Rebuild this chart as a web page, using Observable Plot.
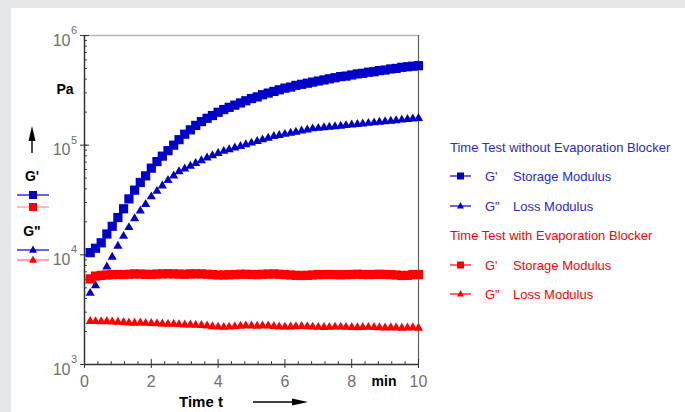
<!DOCTYPE html>
<html>
<head>
<meta charset="utf-8">
<script src="https://cdn.jsdelivr.net/npm/d3@7"></script>
<script src="https://cdn.jsdelivr.net/npm/@observablehq/plot@0.6"></script>
<style>
  html, body { margin: 0; padding: 0; width: 685px; height: 412px; overflow: hidden; background: #e6e7e9; }
  #panel { position: absolute; left: 11px; top: 8px; right: 0; bottom: 0; background: #fff; }
  #chart { position: absolute; left: 0; top: 0; }
  #overlay { position: absolute; left: 0; top: 0; pointer-events: none; font-family: "Liberation Sans", Arial, sans-serif; }
</style>
</head>
<body>
<div id="panel"></div>
<div id="chart"></div>
<svg id="overlay" width="685" height="412"></svg>
<script>
// ---- data ----
const time = [0.17,0.33,0.5,0.67,0.83,1,1.17,1.33,1.5,1.67,1.83,2,2.17,2.33,2.5,2.67,2.83,3,3.17,3.33,3.5,3.67,3.83,4,4.17,4.33,4.5,4.67,4.83,5,5.17,5.33,5.5,5.67,5.83,6,6.17,6.33,6.5,6.67,6.83,7,7.17,7.33,7.5,7.67,7.83,8,8.17,8.33,8.5,8.67,8.83,9,9.17,9.33,9.5,9.67,9.83,10];

// Time test without evaporation blocker (blue)
const storageNoBlocker = [10470,11480,12880,15490,18200,21880,26300,32360,38900,45700,52500,61700,70800,79400,89100,100000,112200,125900,138000,151400,164100,175800,186200,199500,211300,221300,231700,242700,254100,266100,275400,288400,298500,309000,319900,331100,338800,350800,358900,367300,375800,384600,393600,402700,412100,421700,426600,436500,446700,451900,462400,467700,478600,484200,495500,501200,512900,518800,524800,530900];
const lossNoBlocker = [4470,5250,6310,7760,9550,12020,14790,17780,21380,25120,28840,33880,38020,42660,47860,52480,57540,60950,64570,68390,72440,76740,80350,84140,88100,91200,94410,97720,101200,104700,108400,112200,116100,120200,123000,125900,128800,131800,134900,138000,141300,142900,144500,146200,147900,149600,151400,153100,154900,156700,158500,160300,162200,164100,166000,167900,169800,171800,173800,175800];

// Time test with evaporation blocker (red)
const storageBlocker = [6030,6400,6500,6550,6600,6620,6600,6650,6700,6680,6650,6620,6680,6700,6720,6700,6680,6650,6700,6720,6700,6650,6600,6550,6550,6580,6600,6650,6650,6620,6600,6650,6680,6700,6650,6600,6550,6500,6480,6500,6550,6600,6600,6620,6600,6580,6600,6620,6650,6620,6600,6620,6650,6620,6600,6550,6480,6500,6600,6620];
const lossBlocker = [2480,2470,2460,2480,2450,2440,2420,2400,2390,2400,2380,2370,2360,2350,2340,2340,2320,2300,2300,2290,2280,2250,2220,2200,2190,2200,2220,2240,2260,2250,2240,2260,2250,2230,2210,2200,2210,2220,2230,2220,2200,2190,2180,2190,2200,2200,2190,2180,2170,2180,2190,2180,2170,2160,2170,2160,2150,2160,2170,2150];

// ticks
const yTicks = [1e3, 1e4, 1e5, 1e6];
const yTickExp = ["3", "4", "5", "6"];
const xTicks = [0, 2, 4, 6, 8, 10];
const xTickLabels = ["0", "2", "4", "6", "8", "10"];
const xMinorTicks = [0.4,0.8,1.2,1.6,2.4,2.8,3.2,3.6,4.4,4.8,5.2,5.6,6.4,6.8,7.2,7.6,8.4,8.8,9.2,9.6];

const BLUE = "#0000c8";
const RED = "#ff0000";

const rows = (vals) => time.map((t, i) => ({t, v: vals[i]}));

const font = "'Liberation Sans', Arial, sans-serif";

const chart = Plot.plot({
  width: 685,
  height: 412,
  marginLeft: 84,
  marginRight: 267,
  marginTop: 35,
  marginBottom: 48,
  style: {background: "transparent", fontFamily: font, overflow: "visible"},
  x: {domain: [0, 10]},
  y: {type: "log", domain: [1e3, 1e6]},
  marks: [
    Plot.ruleY([1e6], {stroke: "#b4b4b4", strokeWidth: 1.5}),
    Plot.ruleX([10], {stroke: "#606060", strokeWidth: 1.2}),
    // minor y ticks (inside)
    Plot.axisY({tickSize: 3, dx: 3, tickFormat: () => "", label: null, stroke: "#444"}),
    // major y ticks (crossing)
    Plot.axisY({ticks: yTicks, tickSize: 9, dx: 5, tickFormat: () => "", label: null, stroke: "#333"}),
    // minor x ticks (inside)
    Plot.axisX({ticks: xMinorTicks, tickSize: 3, dy: -3, tickFormat: () => "", label: null, stroke: "#444"}),
    // major x ticks (crossing)
    Plot.axisX({ticks: xTicks, tickSize: 9, dy: -5, tickFormat: () => "", label: null, stroke: "#333"}),
    // x tick labels
    Plot.axisX({ticks: xTicks, tickSize: 0, tickPadding: 11, tickFormat: (d) => xTickLabels[xTicks.indexOf(d)], label: null, fontSize: 16, color: "#707070"}),
    Plot.ruleX([0], {stroke: "#333", strokeWidth: 1.5}),
    Plot.ruleY([1e3], {stroke: "#333", strokeWidth: 1.5}),
    // y tick labels 10^n
    Plot.text(yTicks, {y: (d) => d, frameAnchor: "left", text: () => "10", textAnchor: "end", dx: -14, dy: 5, fontSize: 16, fill: "#707070"}),
    Plot.text(yTicks, {y: (d) => d, frameAnchor: "left", text: (d, i) => yTickExp[i], textAnchor: "start", dx: -13.5, dy: -5, fontSize: 11, fill: "#707070"}),
    // data
    Plot.dot(rows(storageNoBlocker), {x: "t", y: "v", symbol: "square", r: 5.2, fill: BLUE, stroke: "none"}),
    Plot.dot(rows(lossNoBlocker), {x: "t", y: "v", symbol: "triangle", r: 3.4, fill: BLUE, stroke: "none"}),
    Plot.dot(rows(storageBlocker), {x: "t", y: "v", symbol: "square", r: 5.2, fill: RED, stroke: "none"}),
    Plot.dot(rows(lossBlocker), {x: "t", y: "v", symbol: "triangle", r: 3.4, fill: RED, stroke: "none"})
  ]
});
document.getElementById("chart").appendChild(chart);

// ---- annotations and legends ----
const ov = d3.select("#overlay");

function marker(g, type, cx, cy, size, color) {
  if (type === "square") {
    g.append("rect").attr("x", cx - size / 2).attr("y", cy - size / 2).attr("width", size).attr("height", size).attr("fill", color);
  } else {
    const h = size * 0.9;
    g.append("path").attr("d", `M${cx},${cy - h * 0.62}L${cx + size / 2},${cy + h * 0.38}L${cx - size / 2},${cy + h * 0.38}Z`).attr("fill", color);
  }
}

// y-axis annotation: Pa, up arrow, G', G''
ov.append("text").attr("x", 65).attr("y", 94).attr("text-anchor", "middle").attr("font-weight", "bold").attr("font-size", 14).text("Pa");
ov.append("line").attr("x1", 32).attr("x2", 32).attr("y1", 153).attr("y2", 138).attr("stroke", "#000").attr("stroke-width", 1.4);
ov.append("path").attr("d", "M28.5,141L35.5,141L32,126Z").attr("fill", "#000");
ov.append("text").attr("x", 32).attr("y", 181).attr("text-anchor", "middle").attr("font-weight", "bold").attr("font-size", 14).text("G'");
ov.append("text").attr("x", 32).attr("y", 236).attr("text-anchor", "middle").attr("font-weight", "bold").attr("font-size", 14).text("G\"");

const leftLeg = [
  {y: 195, type: "square", color: BLUE, line: BLUE, op: 1},
  {y: 207, type: "square", color: RED, line: RED, op: 0.45},
  {y: 250, type: "triangle", color: BLUE, line: BLUE, op: 1},
  {y: 260, type: "triangle", color: RED, line: RED, op: 0.6}
];
leftLeg.forEach(d => {
  ov.append("line").attr("x1", 17).attr("x2", 49).attr("y1", d.y).attr("y2", d.y).attr("stroke", d.line).attr("stroke-opacity", d.op).attr("stroke-width", 1.2);
  marker(ov, d.type, 33, d.y, 8, d.color);
});

// x-axis annotation: min, Time t, arrow
ov.append("text").attr("x", 384).attr("y", 386).attr("text-anchor", "middle").attr("font-weight", "bold").attr("font-size", 14).text("min");
ov.append("text").attr("x", 201).attr("y", 407).attr("text-anchor", "middle").attr("font-weight", "bold").attr("font-size", 15).text("Time t");
ov.append("line").attr("x1", 253).attr("x2", 295).attr("y1", 402).attr("y2", 402).attr("stroke", "#000").attr("stroke-width", 1.4);
ov.append("path").attr("d", "M292,398.5L308,402L292,405.5Z").attr("fill", "#000");

// right legend
const legendHeads = [
  {y: 147, text: "Time Test without Evaporation Blocker", color: "#2a2acc"},
  {y: 235, text: "Time Test with Evaporation Blocker", color: RED}
];
legendHeads.forEach(d => {
  ov.append("text").attr("x", 450).attr("y", d.y + 4.5).attr("font-size", 13).attr("fill", d.color).text(d.text);
});
const legendRows = [
  {y: 176, type: "square", color: BLUE, tcolor: "#2a2acc", sym: "G'", name: "Storage Modulus"},
  {y: 206, type: "triangle", color: BLUE, tcolor: "#2a2acc", sym: "G\"", name: "Loss Modulus"},
  {y: 265, type: "square", color: RED, tcolor: RED, sym: "G'", name: "Storage Modulus"},
  {y: 294, type: "triangle", color: RED, tcolor: RED, sym: "G\"", name: "Loss Modulus"}
];
legendRows.forEach(d => {
  ov.append("line").attr("x1", 450).attr("x2", 471).attr("y1", d.y).attr("y2", d.y).attr("stroke", d.color).attr("stroke-width", 1.2);
  marker(ov, d.type, 460.5, d.y, 7, d.color);
  ov.append("text").attr("x", 485).attr("y", d.y + 4.5).attr("font-size", 13).attr("fill", d.tcolor).text(d.sym);
  ov.append("text").attr("x", 513).attr("y", d.y + 4.5).attr("font-size", 13).attr("fill", d.tcolor).text(d.name);
});
</script>
</body>
</html>
